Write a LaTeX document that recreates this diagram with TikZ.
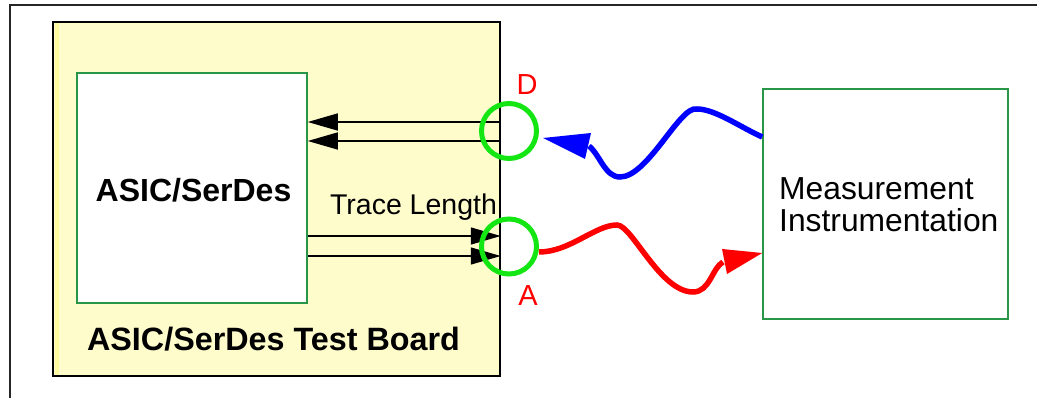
\documentclass[tikz,border=0pt]{standalone}
\usepackage{fontspec}
\setmainfont{Liberation Sans}
\usetikzlibrary{arrows.meta}
\definecolor{boardfill}{RGB}{255,252,204}
\definecolor{boardstrip}{RGB}{255,250,160}
\definecolor{boxgreen}{RGB}{40,150,70}
\definecolor{ringgreen}{RGB}{20,230,20}
\begin{document}
\begin{tikzpicture}[x=1pt,y=-1pt,
  board/.style={rectangle, draw=black, line width=1.5pt, fill=boardfill, inner sep=0},
  box/.style={rectangle, draw=boxgreen, line width=1.5pt, fill=white, inner sep=0},
  ring/.style={circle, draw=ringgreen, line width=5pt, minimum size=55pt, inner sep=0},
  bus/.style={line width=1.4pt, -{Triangle[length=30pt,width=17pt]}},
  wave/.style={line width=5.5pt},
  portlabel/.style={text=red, font=\fontsize{29}{30}\selectfont, inner sep=0},
  plain/.style={inner sep=0}
]
\useasboundingbox (0,0) rectangle (1037,398);

% page frame: left and top rules
\draw[line width=2pt, black!85] (10,398) -- (10,5) -- (1037,5);

% test board with the ASIC inside
\node[board, minimum width=447pt, minimum height=354pt] (board) at (276.5,199) {};
\fill[boardstrip] (54.5,23) rectangle (58.5,375);
\node[box, minimum width=230pt, minimum height=230pt] (asic) at (192,188) {};
\node[plain, anchor=base, font=\bfseries\fontsize{32}{36}\selectfont] (asiclabel) at (193.5,202) {ASIC/SerDes};
\node[plain, anchor=base, font=\bfseries\fontsize{32.3}{36}\selectfont] (boardlabel) at (273.5,351) {ASIC/SerDes Test Board};

% instrument
\node[box, minimum width=245pt, minimum height=230pt] (meas) at (885.5,204) {};
\node[plain, anchor=north west, align=left, font=\fontsize{31.8}{32}\selectfont] (measlabel) at (779,177) {Measurement\\Instrumentation};

% receive pair (D) and transmit pair (A) traces
\coordinate (d1) at (board.east |- 0,122);
\coordinate (d2) at (board.east |- 0,141);
\draw[bus] (d1) -- (asic.east |- d1);
\draw[bus] (d2) -- (asic.east |- d2);
\coordinate (a1) at (asic.east |- 0,236);
\coordinate (a2) at (asic.east |- 0,256);
\draw[bus] (a1) -- (board.east |- a1);
\draw[bus] (a2) -- (board.east |- a2);
\node[plain, anchor=base, font=\fontsize{28.5}{32}\selectfont] (tracelabel) at (413.5,215) {Trace Length};

% connector rings and port letters
\node[ring] (ringD) at (509,131) {};
\node[ring] (ringA) at (509,246.5) {};
\node[portlabel, anchor=base] (labD) at (527,95) {D};
\node[portlabel, anchor=base] (labA) at (528,306) {A};

% stimulus from the instrument into D
\coordinate[yshift=67pt] (bStart) at (meas.west);
\coordinate[xshift=4pt, yshift=-7pt] (bTip) at (ringD.east);
\coordinate (bBase) at (589,146);
\draw[blue, wave] (bStart) .. controls (740,127) and (715,109) .. (697,109)
  .. controls (680,105) and (648,177) .. (620,177)
  .. controls (605,177) and (600,155) .. (bBase);
\fill[blue] (bTip) -- (591,133) -- (585,159) -- cycle;

% response from A back to the instrument
\coordinate[yshift=-5.5pt] (rStart) at (ringA.east);
\coordinate[yshift=-49pt] (rTip) at (meas.west);
\coordinate (rBase) at (723,262);
\draw[red, wave] (rStart) .. controls (570,252) and (595,225) .. (617,225)
  .. controls (632,225) and (660,292) .. (693,292)
  .. controls (710,292) and (712,268) .. (rBase);
\fill[red] (rTip) -- (722,249) -- (727,274) -- cycle;
\end{tikzpicture}
\end{document}
